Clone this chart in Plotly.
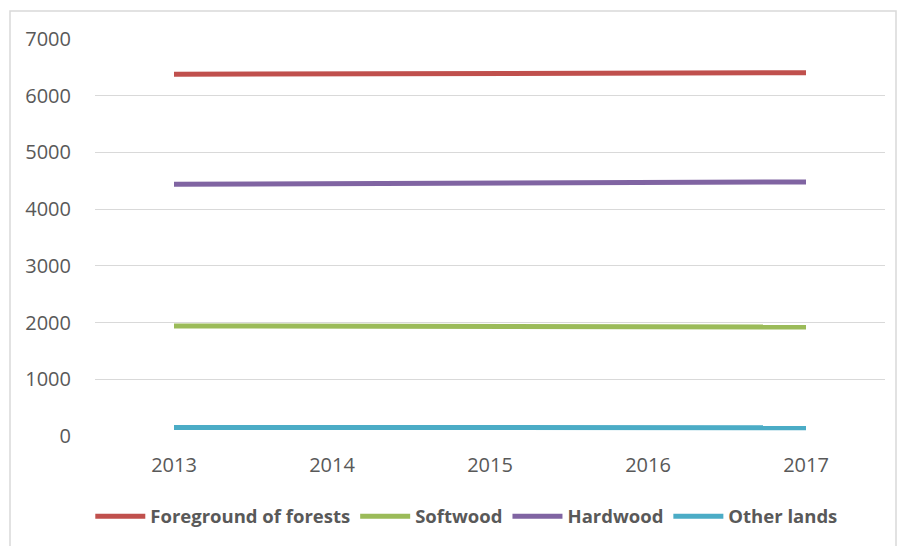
import plotly.graph_objects as go

years = ["2013", "2014", "2015", "2016", "2017"]
foreground = [6380, 6390, 6398, 6402, 6405]
softwood = [1940, 1932, 1930, 1926, 1920]
hardwood = [4440, 4452, 4462, 4472, 4480]
other_lands = [150, 148, 146, 145, 146]

names = ["Foreground of forests", "Softwood", "Hardwood", "Other lands"]
colors = ["#C0504D", "#9BBB59", "#8064A2", "#4BACC6"]
series = [foreground, softwood, hardwood, other_lands]

fig = go.Figure()
for n, c, s in zip(names, colors, series):
    fig.add_trace(go.Scatter(x=years, y=s, name=n, mode="lines",
                             line=dict(color=c, width=5)))

fig.update_layout(
    width=897, height=546,
    margin=dict(l=95, r=12, t=39, b=109),
    paper_bgcolor="white", plot_bgcolor="white",
    font=dict(family="Open Sans, Liberation Sans, sans-serif", size=20, color="#595959"),
    xaxis=dict(type="category", range=[-0.5, 4.5], showgrid=False, zeroline=False,
               showline=False, ticks="", tickfont=dict(size=20, color="#595959"),
               ticklabelstandoff=15),
    yaxis=dict(range=[0, 7000], dtick=1000, showgrid=True, gridcolor="#D9D9D9",
               gridwidth=1, zeroline=False, showline=False, ticks="",
               tickfont=dict(size=20, color="#595959"), ticklabelstandoff=23),
    legend=dict(orientation="h", x=0.47, xanchor="center", y=-0.2, yanchor="middle",
                font=dict(size=18.5, color="#595959", weight="bold"),
                itemwidth=50, tracegroupgap=0),
    shapes=[dict(type="rect", xref="paper", yref="paper",
                 x0=-85/790, x1=1 + 11/790, y0=-120/398, y1=1 + 28/398,
                 line=dict(color="#D9D9D9", width=1.5), fillcolor="rgba(0,0,0,0)")],
)

fig.write_html("out.html")
